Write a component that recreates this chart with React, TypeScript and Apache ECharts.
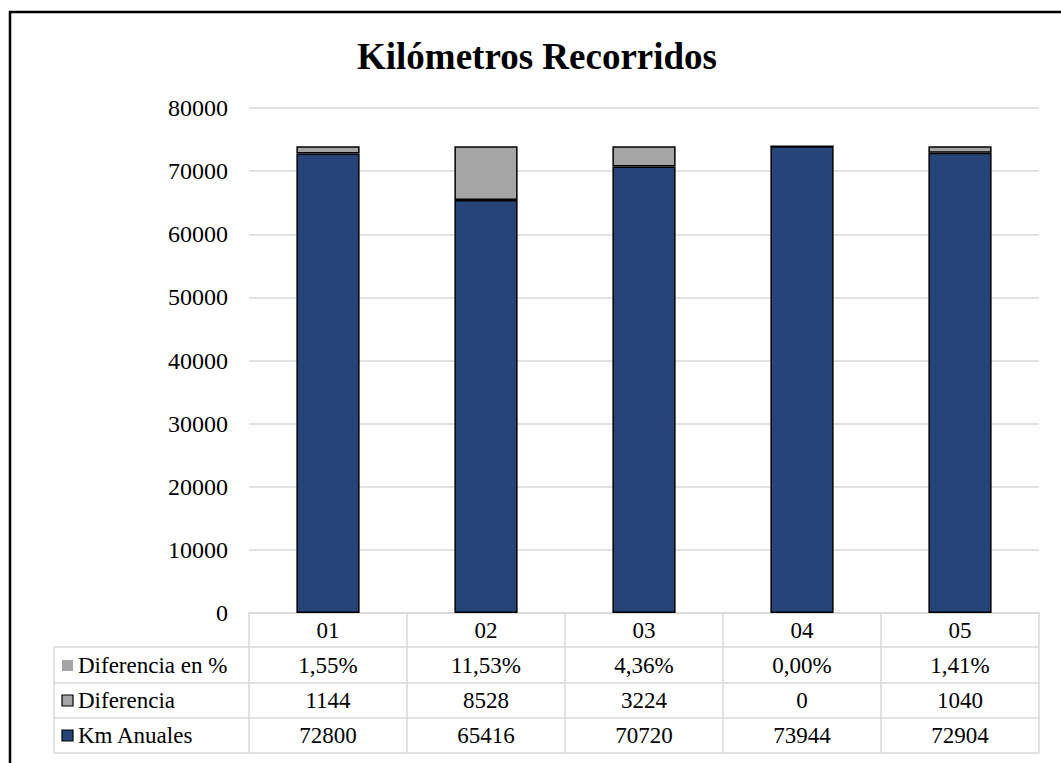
import React, { useEffect, useRef } from "react";
import * as echarts from "echarts";

const title = "Kilómetros Recorridos";
const categories = ["01", "02", "03", "04", "05"];
const kmAnuales = [72800, 65416, 70720, 73944, 72904];
const diferencia = [1144, 8528, 3224, 0, 1040];
const diferenciaPct = [1.55, 11.53, 4.36, 0.0, 1.41];
const seriesNames = ["Diferencia en %", "Diferencia", "Km Anuales"];
const yMin = 0;
const yMax = 80000;
const yInterval = 10000;

const FONT = "Liberation Serif, Times New Roman, serif";
const GRID_LEFT = 249;
const GRID_RIGHT_X = 1039;
const GRID_TOP = 108;
const AXIS_Y = 613;
const ROW_H = 35;
const TABLE_LEFT = 54;
const LINE_COLOR = "#D9D9D9";
const BLUE = "#264478";
const GRAY = "#A5A5A5";

const fmtPct = (v: number) => v.toFixed(2).replace(".", ",") + "%";

export default function App() {
  const ref = useRef<HTMLDivElement>(null);
  useEffect(() => {
    if (!ref.current) return;
    const chart = echarts.init(ref.current, undefined, { renderer: "svg" });
    const W = 1061;
    const H = 763;
    const tableBottom = AXIS_Y + ROW_H * 4;

    const graphics: any[] = [
      {
        type: "rect",
        shape: { x: 10, y: 12, width: 1200, height: 900 },
        style: { fill: "none", stroke: "#000", lineWidth: 2.5 },
        silent: true,
      },
      {
        type: "text",
        x: 537,
        y: 56,
        style: {
          text: title,
          fontFamily: FONT,
          fontSize: 37,
          fontWeight: "bold",
          fill: "#000",
          textAlign: "center",
          textVerticalAlign: "middle",
        },
      },
    ];
    for (let i = 1; i <= 4; i++) {
      const y = AXIS_Y + ROW_H * i - (i === 1 ? 1 : 0);
      graphics.push({
        type: "line",
        shape: { x1: TABLE_LEFT, y1: y, x2: GRID_RIGHT_X, y2: y },
        style: { stroke: LINE_COLOR, lineWidth: 1.5 },
      });
    }
    graphics.push({
      type: "line",
      shape: { x1: TABLE_LEFT, y1: AXIS_Y + ROW_H - 1, x2: TABLE_LEFT, y2: tableBottom },
      style: { stroke: LINE_COLOR, lineWidth: 1.5 },
    });
    const keyStyles = [
      { fill: GRAY, stroke: "none", lineWidth: 0 },
      { fill: GRAY, stroke: "#000", lineWidth: 1.2 },
      { fill: BLUE, stroke: "#000", lineWidth: 1.2 },
    ];
    seriesNames.forEach((name, i) => {
      const cy = AXIS_Y + ROW_H * (i + 1) + ROW_H / 2;
      graphics.push({
        type: "rect",
        shape: { x: 62, y: cy - 5.5, width: 11, height: 11 },
        style: keyStyles[i],
      });
      graphics.push({
        type: "text",
        x: 78,
        y: cy,
        style: {
          text: name,
          fontFamily: FONT,
          fontSize: 23,
          fill: "#000",
          textAlign: "left",
          textVerticalAlign: "middle",
        },
      });
    });

    chart.setOption({
      animation: false,
      backgroundColor: "#fff",
      textStyle: { fontFamily: FONT },
      grid: {
        left: GRID_LEFT,
        right: W - GRID_RIGHT_X,
        top: GRID_TOP,
        bottom: H - AXIS_Y,
        containLabel: false,
      },
      xAxis: {
        type: "category",
        data: categories,
        axisLine: { show: true, lineStyle: { color: LINE_COLOR, width: 1.5 } },
        axisTick: {
          show: true,
          inside: false,
          alignWithLabel: false,
          length: ROW_H * 4,
          lineStyle: { color: LINE_COLOR, width: 1.5 },
        },
        axisLabel: {
          interval: 0,
          margin: 0,
          formatter: (_v: string, idx: number) =>
            [categories[idx], fmtPct(diferenciaPct[idx]), String(diferencia[idx]), String(kmAnuales[idx])].join("\n"),
          fontFamily: FONT,
          fontSize: 23,
          color: "#000",
          lineHeight: ROW_H,
        },
      },
      yAxis: {
        type: "value",
        min: yMin,
        max: yMax,
        interval: yInterval,
        axisLine: { show: false },
        axisTick: { show: false },
        axisLabel: {
          fontFamily: FONT,
          fontSize: 24,
          color: "#000",
          margin: 21,
          formatter: (v: number) => String(v),
        },
        splitLine: { lineStyle: { color: LINE_COLOR, width: 1.5 } },
      },
      series: [
        {
          name: seriesNames[2],
          type: "bar",
          stack: "total",
          data: kmAnuales,
          barWidth: "40%",
          itemStyle: { color: BLUE, borderColor: "#000", borderWidth: 1.5 },
        },
        {
          name: seriesNames[1],
          type: "bar",
          stack: "total",
          data: diferencia,
          barWidth: "40%",
          itemStyle: { color: GRAY, borderColor: "#000", borderWidth: 1.5 },
        },
        {
          name: seriesNames[0],
          type: "bar",
          stack: "total",
          data: diferenciaPct,
          barWidth: "40%",
          itemStyle: { color: GRAY, borderWidth: 0 },
        },
      ],
      graphic: graphics,
    });
    return () => chart.dispose();
  }, []);
  return (
    <div
      ref={ref}
      style={{ position: "fixed", left: 0, top: 0, width: 1061, height: 763 }}
    />
  );
}
